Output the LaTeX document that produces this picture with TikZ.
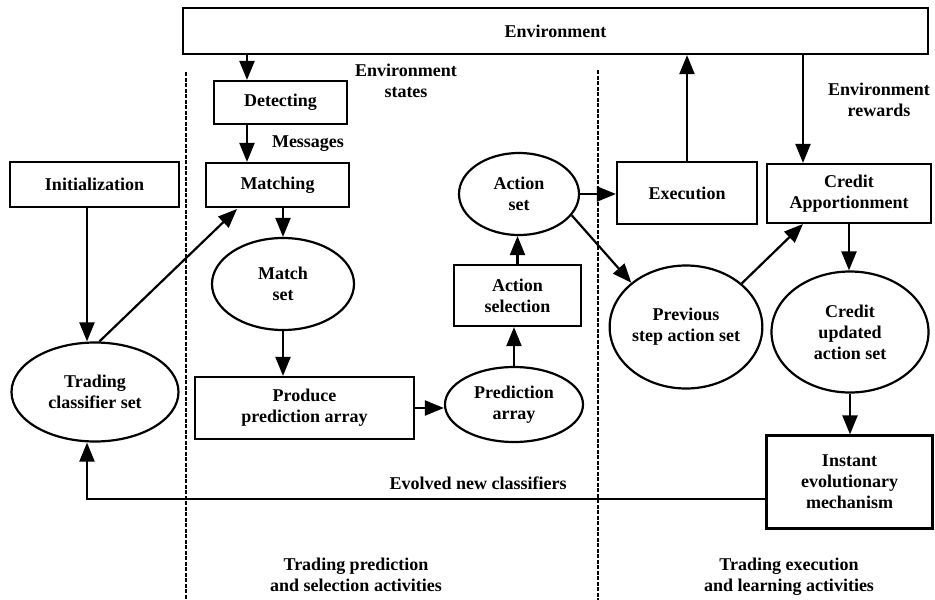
\documentclass[tikz,border=0pt]{standalone}
\usepackage{fontspec}
\setmainfont{Liberation Serif}
\usetikzlibrary{arrows.meta,shapes.geometric}
\tikzset{
  box/.style={draw,line width=2.2pt,rectangle,inner sep=0pt,align=center,font=\fontsize{18}{21}\selectfont\bfseries},
  oval/.style={draw,line width=2.2pt,ellipse,inner sep=0pt,align=center,font=\fontsize{18}{21}\selectfont\bfseries},
  lbl/.style={inner sep=0pt,align=center,font=\fontsize{18}{21}\selectfont\bfseries},
  conn/.style={line width=2.2pt,-{Triangle[length=19pt,width=15pt]}},
  divider/.style={line width=1.8pt,dash pattern=on 4pt off 1.5pt}
}
\begin{document}
\begin{tikzpicture}[x=1pt,y=-1pt]
\useasboundingbox (0,0) rectangle (935,600);
% nodes
\node[box,minimum width=745pt,minimum height=46pt] (env) at (555.5,31) {Environment};
\node[box,minimum width=133pt,minimum height=43pt] (det) at (280.5,102.5) {Detecting};
\node[box,minimum width=143pt,minimum height=44pt] (match) at (277.5,185) {Matching};
\node[box,minimum width=169pt,minimum height=45pt] (init) at (94.5,184.5) {Initialization};
\node[oval,minimum width=167pt,minimum height=99pt] (tcs) at (95,392) {Trading\\classifier set};
\node[oval,minimum width=142pt,minimum height=92pt] (mset) at (283,284) {Match\\set};
\node[box,minimum width=219pt,minimum height=62pt] (prod) at (304.5,408) {Produce\\prediction array};
\node[oval,minimum width=138pt,minimum height=75pt] (parr) at (514,404.5) {Prediction\\array};
\node[box,minimum width=127pt,minimum height=61pt] (asel) at (517.5,295.5) {Action\\selection};
\node[oval,minimum width=120pt,minimum height=82pt] (aset) at (519,194) {Action\\set};
\node[box,minimum width=140pt,minimum height=62pt] (exec) at (687,193) {Execution};
\node[box,minimum width=164pt,minimum height=59pt] (credit) at (849,193.5) {Credit\\Apportionment};
\node[oval,minimum width=145pt,minimum height=123pt] (prev) at (686,327) {Previous\\step action set};
\node[oval,minimum width=157pt,minimum height=121pt] (cupd) at (850,332) {Credit\\updated\\action set};
\node[box,minimum width=166pt,minimum height=93pt] (inst) at (849.5,482) {Instant\\evolutionary\\mechanism};
% labels
\node[lbl] (envstates) at (406,81) {Environment\\states};
\node[lbl] (envrewards) at (879,100) {Environment\\rewards};
\node[lbl] (msgs) at (308,144) {Messages};
\node[lbl] (evolved) at (478,483) {Evolved new classifiers};
\node[lbl] (tpsa) at (356,575) {Trading prediction\\and selection activities};
\node[lbl] (tela) at (789,577) {Trading execution\\and learning activities};
% helper coordinates
\coordinate (dx) at (247,0);
\coordinate (rx) at (803,0);
\coordinate (fx) at (87,0);
\coordinate (fb) at (87,499);
\coordinate (mtip) at (237,209);
\coordinate (ctip) at (803,224);
\coordinate (d1a) at (186,72);
\coordinate (d1b) at (186,600);
\coordinate (d2a) at (598,70);
\coordinate (d2b) at (598,600);
% dividers
\draw[divider] (d1a) -- (d1b);
\draw[divider] (d2a) -- (d2b);
% connectors
\draw[conn] (env.south -| dx) -- (det.north -| dx);
\draw[conn] (det.south -| dx) -- (match.north -| dx);
\draw[conn] (match.south -| mset.north) -- (mset.north);
\draw[conn] (mset.south) -- (mset.south |- prod.north);
\draw[conn] (prod.east) -- (prod.east -| parr.west);
\draw[conn] (parr.north) -- (parr.north |- asel.south);
\draw[conn] (asel.north) -- (asel.north |- aset.south);
\draw[conn] (aset.east) -- (aset.east -| exec.west);
\draw[conn] (aset.-22) -- (prev.141);
\draw[conn] (exec.north) -- (exec.north |- env.south);
\draw[conn] (env.south -| rx) -- (credit.north -| rx);
\draw[conn] (prev.38) -- (ctip);
\draw[conn] (credit.south) -- (credit.south |- cupd.north);
\draw[conn] (cupd.south) -- (cupd.south |- inst.north);
\draw[conn] (init.south -| fx) -- (tcs.north -| fx);
\draw[conn] (tcs.85) -- (mtip);
\draw[conn] (inst.west |- fb) -- (fb) -- (fb |- tcs.south);
\end{tikzpicture}
\end{document}
